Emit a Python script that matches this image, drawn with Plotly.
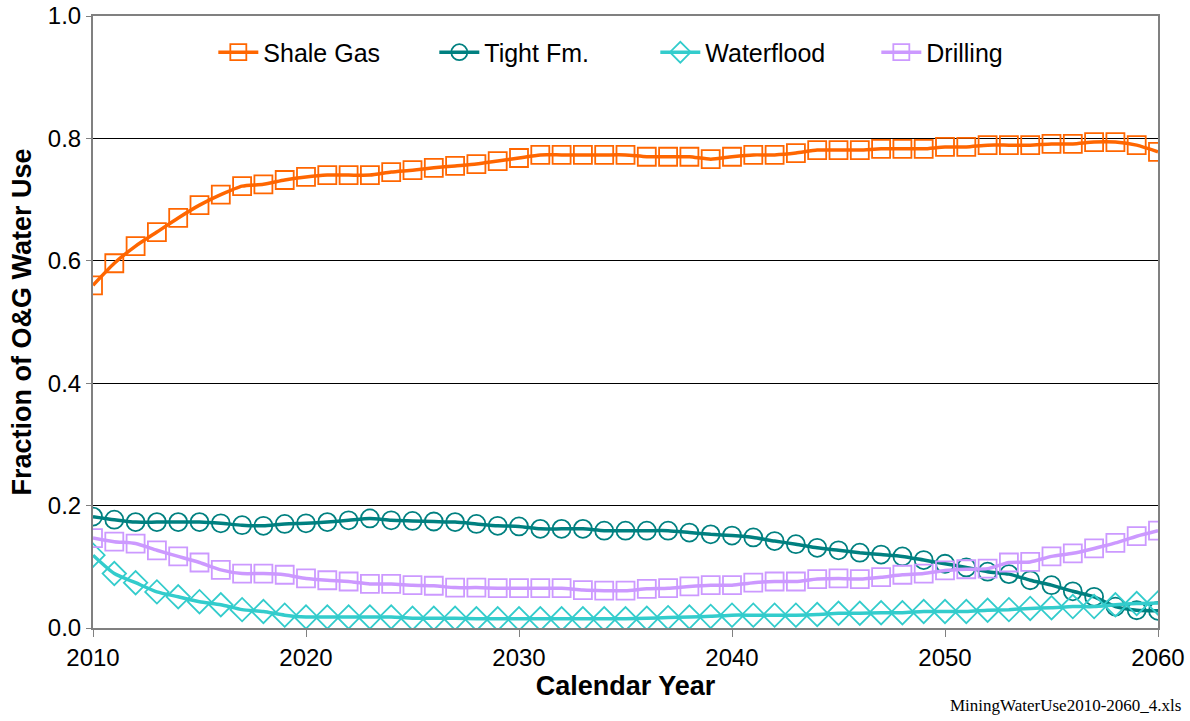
import plotly.graph_objects as go

years = list(range(2010, 2061))

shale_gas = [0.560, 0.596, 0.624, 0.647, 0.670, 0.691, 0.708, 0.722, 0.725, 0.732,
             0.737, 0.740, 0.740, 0.740, 0.745, 0.748, 0.752, 0.755, 0.758, 0.763,
             0.768, 0.773, 0.773, 0.773, 0.773, 0.773, 0.770, 0.770, 0.770, 0.766,
             0.770, 0.773, 0.773, 0.776, 0.781, 0.781, 0.781, 0.783, 0.783, 0.783,
             0.786, 0.786, 0.789, 0.789, 0.789, 0.791, 0.791, 0.794, 0.794, 0.789,
             0.778]

tight_fm = [0.182, 0.177, 0.173, 0.173, 0.173, 0.173, 0.171, 0.168, 0.167, 0.170,
            0.171, 0.173, 0.176, 0.179, 0.176, 0.175, 0.174, 0.173, 0.170, 0.167,
            0.166, 0.162, 0.162, 0.162, 0.159, 0.159, 0.159, 0.159, 0.156, 0.153,
            0.151, 0.148, 0.142, 0.137, 0.131, 0.127, 0.123, 0.120, 0.117, 0.111,
            0.105, 0.099, 0.092, 0.088, 0.078, 0.070, 0.060, 0.051, 0.035, 0.029,
            0.028]

waterflood = [0.119, 0.089, 0.074, 0.059, 0.051, 0.043, 0.038, 0.030, 0.027, 0.021,
              0.018, 0.018, 0.018, 0.018, 0.018, 0.016, 0.016, 0.016, 0.015, 0.015,
              0.015, 0.015, 0.015, 0.015, 0.015, 0.015, 0.016, 0.017, 0.018, 0.019,
              0.021, 0.021, 0.021, 0.021, 0.022, 0.024, 0.024, 0.025, 0.025, 0.027,
              0.027, 0.027, 0.029, 0.030, 0.032, 0.033, 0.035, 0.035, 0.038, 0.040,
              0.041]

drilling = [0.147, 0.141, 0.138, 0.127, 0.117, 0.107, 0.095, 0.089, 0.089, 0.087,
            0.081, 0.078, 0.076, 0.072, 0.072, 0.070, 0.069, 0.066, 0.066, 0.065,
            0.065, 0.065, 0.065, 0.062, 0.061, 0.061, 0.064, 0.065, 0.068, 0.070,
            0.070, 0.074, 0.076, 0.076, 0.080, 0.081, 0.080, 0.083, 0.087, 0.089,
            0.094, 0.096, 0.097, 0.107, 0.108, 0.117, 0.122, 0.130, 0.139, 0.150,
            0.159]

series = [
    ("Shale Gas", shale_gas, "#FF6600", "square-open"),
    ("Tight Fm.", tight_fm, "#008080", "circle-open"),
    ("Waterflood", waterflood, "#33CCCC", "diamond-open"),
    ("Drilling", drilling, "#CC99FF", "square-open"),
]

fig = go.Figure()
for name, vals, color, symbol in series:
    fig.add_trace(go.Scatter(
        x=years, y=vals, name=name, mode="lines+markers",
        line=dict(color=color, width=3.5, shape="spline", smoothing=0.6),
        marker=dict(symbol=symbol, size=18, color=color, line=dict(color=color, width=1.8)),
    ))

fig.update_layout(
    width=1190, height=721,
    margin=dict(l=93, r=32, t=16, b=93),
    paper_bgcolor="white", plot_bgcolor="white",
    font=dict(family="Liberation Sans, Arial, sans-serif", color="black", size=24),
    showlegend=True,
    legend=dict(orientation="h", x=0.528, xanchor="center", y=0.978, yanchor="top",
                font=dict(size=25), bgcolor="white", itemwidth=40,
                entrywidth=166, entrywidthmode="pixels"),
    xaxis=dict(range=[2010, 2060], dtick=10, tick0=2010, showgrid=False, automargin=False,
               showline=True, linecolor="#808080", linewidth=2, mirror=True,
               ticks="outside", ticklen=7, tickcolor="#808080",
               title=dict(text="<b>Calendar Year</b>", font=dict(size=27), standoff=4)),
    yaxis=dict(range=[0, 1], dtick=0.2, tickformat=".1f", showgrid=True, automargin=False,
               gridcolor="black", gridwidth=1, zeroline=False,
               showline=True, linecolor="#808080", linewidth=2, mirror=True,
               ticks="outside", ticklen=5, tickcolor="#808080",
               title=dict(text="<b>Fraction of O&G Water Use</b>", font=dict(size=27), standoff=8)),
)

fig.add_annotation(text="MiningWaterUse2010-2060_4.xls", xref="paper", yref="paper",
                   x=1.0235, y=-0.127, xanchor="right", yanchor="middle", showarrow=False,
                   font=dict(family="Liberation Serif, Times New Roman, serif", size=17))

# drop the default 8px page margin so the figure fills the window
fig.write_html("out.html", config={"displayModeBar": False},
               post_script="document.body.style.margin='0';")
